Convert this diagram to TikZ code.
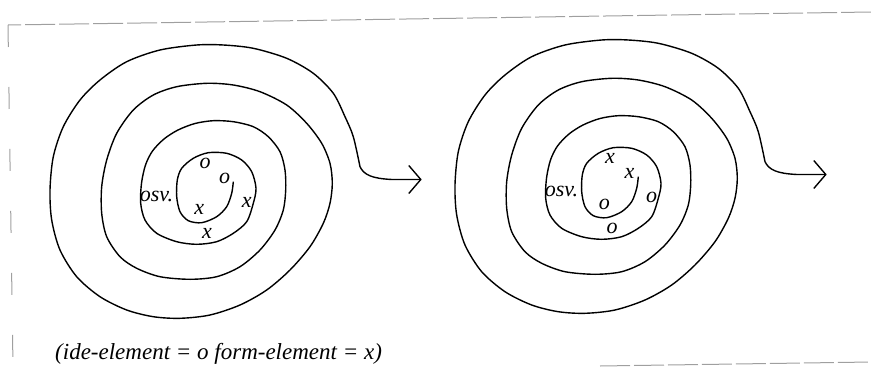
\documentclass[tikz,border=0pt]{standalone}
\usepackage{fontspec}
\setmainfont{Liberation Serif}
\usepackage{tikz}
\usetikzlibrary{arrows.meta}
\tikzset{
  coil/.style={-{Straight Barb[length=12pt, width=28pt, line width=1.4pt]}, line width=1.4pt, black},
  frameline/.style={gray!75, line width=1pt, dash pattern=on 30pt off 4pt},
  sideline/.style={gray!75, line width=1pt, dash pattern=on 22pt off 40pt},
  elem/.style={inner sep=0pt, font=\fontsize{22}{24}\selectfont\itshape},
  note/.style={inner sep=0pt, anchor=base west, font=\fontsize{23}{26}\selectfont\itshape},
}
% one spiral: #1 prefix, #2 shift, #3 inner symbol, #4 outer symbol
\newcommand{\spiralfig}[4]{%
\begin{scope}[shift={#2}]
\coordinate (#1tip) at (421.7,179.5);
\draw[coil] plot[smooth] coordinates {(233.3,181.7) (231.7,193.3) (226.7,206.7) (216.7,216.7)
  (201.7,222.7) (188.3,220.7) (180,211.7) (176.7,196.7) (177.3,180) (181.7,168.3) (193.3,158.3)
  (208.3,152.7) (226.7,153.3) (241.7,160) (251.7,171.7) (256,188.3) (253.3,203.3) (246.7,221.7)
  (233.3,233.3) (216.7,241.7) (196.7,244.3) (176.7,241.7) (156.7,233.3) (145,220) (140.7,203.3)
  (141.5,183.3) (145.5,165) (152.5,151) (164,139) (178,130) (195,123.5) (213.3,120.7) (233.3,121.7)
  (253.3,126.7) (268.3,136.7) (280,151.7) (285,170) (285.7,190) (283.3,210) (275,230) (260,250)
  (240,266.7) (216.7,276.7) (190,279.3) (160,276.7) (136.7,268.3) (120,256.7) (106.7,236.7)
  (101.7,213.3) (101.7,186.7) (106.7,160) (116.7,133.3) (133.3,110) (153.3,95) (176.7,86.7)
  (206.7,83.3) (233.3,85) (260,91.7) (286.7,105) (306.7,123.3) (321.7,143.3) (330,163.3)
  (332.3,183.3) (330,203.3) (323.3,223.3) (310,246.7) (290,270) (266.7,290) (240,305) (210,315)
  (180,318.3) (153.3,316.7) (126.7,310) (100,296.7) (76.7,276.7) (60,250) (51.7,220) (50,190)
  (53.3,156.7) (63.3,126.7) (80,100) (100,80) (126.7,61.7) (160,50) (196.7,45) (223.3,45)
  (253.3,48.3) (286.7,58.3) (313.3,73.3) (333.3,93.3) (345,116.7) (353.3,136.7) (360,166.7)}
  .. controls (364,175) and (372,178.5) .. (392,179.5) -- (#1tip);
\node[elem] (#1a) at (205,163.3) {#3};
\node[elem] (#1b) at (224.5,178.5) {#3};
\node[elem] (#1c) at (199.3,209) {#4};
\node[elem] (#1d) at (246.7,202) {#4};
\node[elem] (#1e) at (207,233.5) {#4};
\node[elem] (#1osv) at (156.5,196) {osv.};
\end{scope}}

\begin{document}
\begin{tikzpicture}[x=1pt, y=-1pt]
\useasboundingbox (0,0) rectangle (871,367);
% --- broken frame ---
\draw[frameline] (871,12) -- (8,25);
\draw[sideline] (8,25) -- (13,367);
\draw[frameline] (600,366) -- (871,362);
% --- left spiral: ide inside ---
\spiralfig{l}{(0,0)}{o}{x}
% --- right spiral: form inside ---
\spiralfig{r}{(405,-5)}{x}{o}
% --- legend ---
\node[note] (legend) at (55,359) {(ide-element = o form-element = x)};
\end{tikzpicture}
\end{document}
